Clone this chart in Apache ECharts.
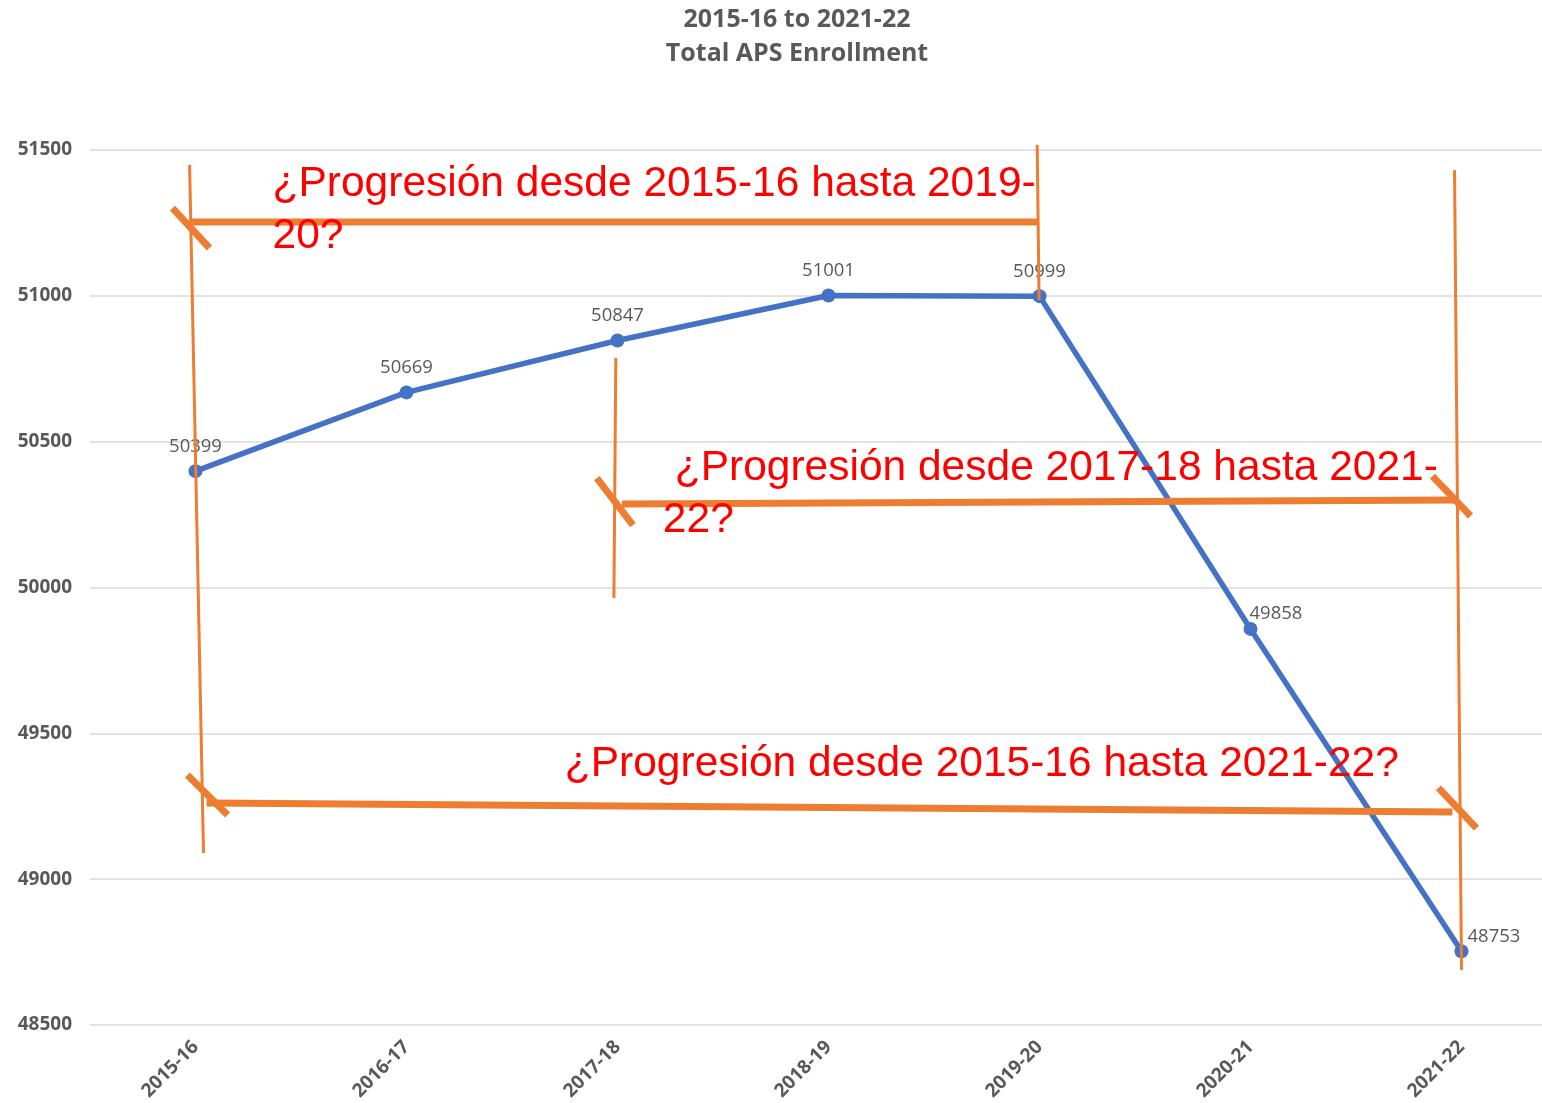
<!DOCTYPE html>
<html>
<head>
<meta charset="utf-8">
<script src="https://cdn.jsdelivr.net/npm/echarts@6/dist/echarts.min.js"></script>
<style>
  html, body { margin: 0; padding: 0; background: #fff; }
  #main { width: 1542px; height: 1103px; }
</style>
</head>
<body>
<div id="main"></div>
<script>
// data
const years = ['2015-16', '2016-17', '2017-18', '2018-19', '2019-20', '2020-21', '2021-22'];
const enrollment = [50399, 50669, 50847, 51001, 50999, 49858, 48753];
const yTicks = [48500, 49000, 49500, 50000, 50500, 51000, 51500];

// hand-drawn annotations, in [category index, value] space
const thinLines = [
  [[-0.028, 51449], [0.038, 49090]],
  [[3.989, 51517], [3.998, 50986]],
  [[1.992, 50787], [1.983, 49964]],
  [[5.967, 51431], [6.0, 48689]]
];
const thickLines = [
  [[-0.028, 51253], [3.989, 51253]],
  [[2.021, 50286], [5.972, 50300]],
  [[0.052, 49261], [5.957, 49230]],
  [[-0.109, 51301], [0.066, 51164]],
  [[1.902, 50375], [2.073, 50214]],
  [[5.862, 50382], [6.043, 50245]],
  [[-0.038, 49357], [0.152, 49220]],
  [[5.891, 49313], [6.071, 49175]]
];
const notes = [
  { at: [0.365, 51472], text: '¿Progresión desde 2015-16 hasta 2019-\n20?' },
  { at: [2.215, 50497], text: ' ¿Progresión desde 2017-18 hasta 2021-\n22?' },
  { at: [1.750, 49482], text: '¿Progresión desde 2015-16 hasta 2021-22?' }
];

const chart = echarts.init(document.getElementById('main'));

// last two labels sit up and to the right of their points
const labelOffsets = { 5: [-16, -15], 6: [-9, -14] };

const option = {
  backgroundColor: '#fff',
  animation: false,
  title: {
    text: '2015-16 to 2021-22\nTotal APS Enrollment',
    left: 792,
    textAlign: 'center',
    top: -2,
    textStyle: {
      fontFamily: 'Open Sans',
      fontWeight: 'bold',
      fontSize: 25,
      lineHeight: 34,
      color: '#595959'
    }
  },
  grid: {
    left: 90,
    top: 150,
    right: -25,
    bottom: 78,
    outerBoundsMode: 'none'
  },
  xAxis: {
    type: 'category',
    data: years,
    boundaryGap: true,
    axisLine: { show: false },
    axisTick: { show: false },
    axisLabel: {
      rotate: 45,
      margin: 19,
      fontFamily: 'Open Sans',
      fontWeight: 'bold',
      fontSize: 19,
      color: '#595959'
    }
  },
  yAxis: {
    type: 'value',
    min: yTicks[0],
    max: yTicks[yTicks.length - 1],
    interval: 500,
    axisLine: { show: false },
    axisTick: { show: false },
    splitLine: { lineStyle: { color: '#e3e3e3', width: 2 } },
    axisLabel: {
      margin: 18,
      fontFamily: 'Open Sans',
      fontWeight: 'bold',
      fontSize: 19,
      color: '#595959',
      formatter: function (v) { return String(v); }
    }
  },
  series: [{
    type: 'line',
    data: enrollment.map(function (v, i) {
      if (labelOffsets[i]) {
        return { value: v, label: { position: 'right', offset: labelOffsets[i] } };
      }
      return v;
    }),
    symbol: 'circle',
    symbolSize: 14,
    lineStyle: { color: '#4472C4', width: 5.5 },
    itemStyle: { color: '#4472C4' },
    label: {
      show: true,
      position: 'top',
      distance: 8,
      fontFamily: 'Open Sans',
      fontSize: 18.5,
      color: '#595959'
    }
  }]
};

chart.setOption(option);

// map an annotation point (fractional category index, value) to pixels
const x0 = chart.convertToPixel({ gridIndex: 0 }, [0, yTicks[0]])[0];
const x6 = chart.convertToPixel({ gridIndex: 0 }, [6, yTicks[0]])[0];
function toPx(p) {
  const y = chart.convertToPixel({ yAxisIndex: 0 }, p[1]);
  return [x0 + (x6 - x0) * p[0] / 6, y];
}

const graphics = [];
thinLines.forEach(function (l) {
  const a = toPx(l[0]), b = toPx(l[1]);
  graphics.push({
    type: 'line', z: 100,
    shape: { x1: a[0], y1: a[1], x2: b[0], y2: b[1] },
    style: { stroke: '#ED7D31', lineWidth: 3 }
  });
});
thickLines.forEach(function (l) {
  const a = toPx(l[0]), b = toPx(l[1]);
  graphics.push({
    type: 'line', z: 100,
    shape: { x1: a[0], y1: a[1], x2: b[0], y2: b[1] },
    style: { stroke: '#ED7D31', lineWidth: 7 }
  });
});
notes.forEach(function (n) {
  const p = toPx(n.at);
  graphics.push({
    type: 'text', z: 101,
    x: p[0], y: p[1],
    style: {
      text: n.text,
      fill: '#FF0000',
      font: '42.5px "Liberation Sans", Arial, sans-serif',
      lineHeight: 52,
      align: 'left',
      verticalAlign: 'top'
    }
  });
});

chart.setOption({ graphic: graphics });
</script>
</body>
</html>
